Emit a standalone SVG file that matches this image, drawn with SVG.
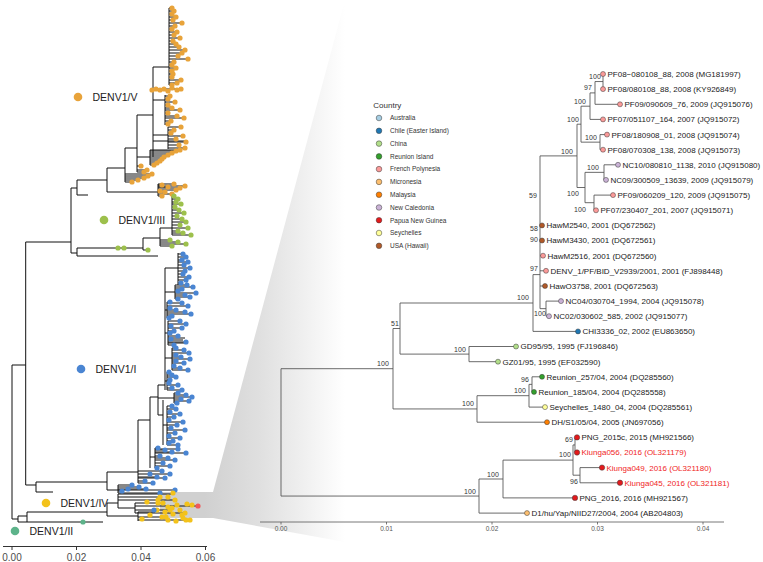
<svg xmlns="http://www.w3.org/2000/svg" width="763" height="562" viewBox="0 0 763 562">
<defs>
<linearGradient id="wedge" gradientUnits="userSpaceOnUse" x1="205" y1="0" x2="345" y2="0">
<stop offset="0" stop-color="#d0d0d0"/>
<stop offset="0.4" stop-color="#e0e0e0"/>
<stop offset="1" stop-color="#ffffff"/>
</linearGradient>
<style>
.lt{fill:none;stroke:#111;stroke-width:1}
.rt{fill:none;stroke:#505050;stroke-width:0.85}
.dt{fill:none;stroke-linecap:round;stroke-width:5.2}
.ax{fill:none;stroke:#333;stroke-width:1}
.axr{fill:none;stroke:#555;stroke-width:0.8}
.tl{font-family:"Liberation Sans",Arial,sans-serif;font-size:10px;fill:#4d4d4d;text-anchor:middle}
.trr{font-family:"Liberation Sans",Arial,sans-serif;font-size:6.5px;fill:#555;text-anchor:middle}
.cl-t{font-family:"Liberation Sans",Arial,sans-serif;font-size:10.5px;fill:#222}
.lf{font-family:"Liberation Sans",Arial,sans-serif;font-size:8px;fill:#1a1a1a}
.lfr{font-family:"Liberation Sans",Arial,sans-serif;font-size:8px;fill:#f01e1e}
.bs{font-family:"Liberation Sans",Arial,sans-serif;font-size:7px;fill:#333;text-anchor:end}
.lg{font-family:"Liberation Sans",Arial,sans-serif;font-size:6.5px;fill:#333}
.lgt{font-family:"Liberation Sans",Arial,sans-serif;font-size:8px;fill:#333}
.d{stroke:#3a3a3a;stroke-width:0.5}
.au{fill:#a6cee3}.cl{fill:#1f78b4}.cn{fill:#b2df8a}.re{fill:#33a02c}.fp{fill:#fb9a99}.mi{fill:#fdbf6f}.my{fill:#ff7f00}.nc{fill:#cab2d6}.pg{fill:#e31a1c}.se{fill:#ffff99}.us{fill:#b15928}
</style>
</defs>
<rect width="763" height="562" fill="#ffffff"/>
<polygon id="zoom-wedge" points="160,492 213,492 345,0 460,0 460,562 455,562 213,518 160,518" fill="url(#wedge)"/>

<g id="left-tree">
<g id="left-connectors">
<path class="lt" d="M12 365V519M12 365H25.7M25.7 242V485M25.7 242H71M71 188V253M71 188H77M77 180V195M77 195H88M77 180H107
M107 168V192M107 192H158M158 184V196M107 168H125M125 148V182M125 148H137M137 115V172M137 115H153M153 67V157M153 67H169M169 8V85M153 89H181M153 141H187
M169 8H172M169 11H174M169 14H172M169 17H176M169 20H173M169 23H182M169 26H175M169 29H172M169 32H177M169 35H174M169 38H180M169 41H173M169 44H176M169 47H179M169 50H185M169 53H182M169 56H178M169 59H188M169 62H174M169 65H172M169 68H176M169 71H172M169 74H173M169 77H172M169 80H181M169 83H177M169 85H172
M153 100H165M165 95V125M165 96H170M165 99H168M165 102H175M165 105H168M165 108H172M165 110H180M165 113H168M165 116H177M165 118H184M165 121H171M165 124H168
M153 135H168M168 127V149M168 127H181M168 130H174M168 133H171M168 136H183M168 139H176M168 142H186M168 145H179M168 148H185
M137 157H150M150 150V165M150 150H180M150 151H176M150 153H172M150 155H168M150 157H164M150 159H162M150 161H160M150 163H157M150 165H154M137 166H141M137 170H147M137 172H144
M125 174H152M125 176H148M125 178H144M125 180H138M125 182H132
M158 184H174M158 185H162M158 186H185M158 187H168M158 188H180M158 190H176M158 191H160M158 192H165M158 194H172M158 196H162
M71 253H77M77 248V256M77 256H158M77 248H143M143 238V250M143 250H150M143 238H160M160 228V246M160 228H172M172 196V235
M172 196H174M172 199H178M172 202H176M172 204H181M172 207H175M172 210H179M172 213H184M172 216H177M172 219H182M172 222H186M172 225H180M172 228H188M172 231H178M172 233H183M172 235H191
M160 240H170M160 242H178M160 244H186M160 246H172
M25.7 485H36M36 482V492M36 492H53M36 482H107M107 472V490M107 490H118M118 485V493M107 472H138M138 420V483M138 420H150M150 397V468M150 397H158M158 385V415M158 415H163M163 400V445M158 385H165M165 268V390M165 268H178M178 253V285
M178 254H183M178 257H186M178 260H182M178 262H188M178 265H184M178 268H190M178 271H185M178 274H183M178 277H189M178 280H186M178 283H181
M165 292H175M175 285V299M175 285H187M175 287H193M175 289H182M175 291H178M175 293H196M175 295H185M175 297H190M175 299H178
M165 310H167M167 302V318M167 302H170M167 303H182M167 306H188M167 308H170M167 310H176M167 312H185M167 314H191M167 316H172M167 318H169
M165 333H168M168 321V345M168 321H180M168 324H186M168 326H171M168 328H182M168 331H174M168 333H170M168 336H178M168 338H185M168 339H171M168 340H183M168 342H186M168 343H186M168 345H174
M165 358H172M172 348V370M172 348H176M172 350H184M172 353H189M172 355H176M172 357H181M172 359H190M172 361H176M172 363H184M172 366H174M172 368H180M172 370H188
M165 381H167M167 372V390M167 372H169M167 375H172M167 377H176M167 380H170M167 383H169M167 385H178M167 388H172M167 390H182
M158 398H174M174 393V403M174 393H178M174 395H186M174 397H192M174 399H181M174 401H189M174 403H177
M163 425H167M167 406V445M167 406H172M167 409H176M167 412H170M167 414H180M167 417H174M167 420H169M167 422H183M167 425H177M167 428H171M167 430H185M167 433H175M167 436H169M167 438H180M167 441H173M167 443H169M167 445H178
M150 457H155M155 448V468M155 448H158M155 449H178M155 450H165M155 452H172M155 453H186M155 456H160M155 458H168M155 460H175M155 463H163M155 466H170M155 468H157
M138 471H162M138 474H170M138 477H157M138 478H165M138 481H145M138 483H153
M118 485H132M118 487H139M118 489H146M118 490H175M118 491H122M118 493H160
M12 519H18M18 516V522M18 516H27M18 522H27M27 512V522M27 512H107M27 522H103M107 503V516M107 503H118M118 494V508M118 494H173M118 497H160M118 500H175M118 508H135M135 503V513M135 503H158M135 506H198M135 510H170M135 513H185M107 516H138M138 512V521M138 512H155M138 517H166M138 520H190"/>
</g>
<path id="dots-V" class="dt" stroke="#e8a33a" d="M172 8h0M174 11h0M172 14h0M176 17h0M173 20h0M182 23h0M175 26h0M172 29h0M177 32h0M174 35h0M180 38h0M173 41h0M176 44h0M179 47h0M185 50h0M182 53h0M178 56h0M188 59h0M174 62h0M172 65h0M176 68h0M172 71h0M173 74h0M172 77h0M181 80h0M177 83h0M172 85h0M152 90h0M156 89h0M160 90h0M164 89h0M168 91h0M172 88h0M177 90h0M181 89h0M170 96h0M168 99h0M175 102h0M168 105h0M172 108h0M180 110h0M168 113h0M177 116h0M184 118h0M171 121h0M168 124h0M181 127h0M174 130h0M171 133h0M183 136h0M176 139h0M186 142h0M179 145h0M185 148h0M180 150h0M176 151h0M172 153h0M168 155h0M164 157h0M162 159h0M160 161h0M157 163h0M154 165h0M141 166h0M147 170h0M144 172h0M152 174h0M148 176h0M144 178h0M138 180h0M132 182h0M174 184h0M162 185h0M185 186h0M168 187h0M180 188h0M176 190h0M160 191h0M165 192h0M172 194h0M162 196h0"/>
<path id="dots-III" class="dt" stroke="#9dc04c" d="M174 196h0M178 199h0M176 202h0M181 204h0M175 207h0M179 210h0M184 213h0M177 216h0M182 219h0M186 222h0M180 225h0M188 228h0M178 231h0M183 233h0M191 235h0M170 240h0M178 242h0M186 244h0M172 246h0M118 248h0M124 248h0M148 250h0"/>
<path id="dots-I" class="dt" stroke="#4a85d2" d="M183 254h0M186 257h0M182 260h0M188 262h0M184 265h0M190 268h0M185 271h0M183 274h0M189 277h0M186 280h0M181 283h0M187 285h0M193 287h0M182 289h0M178 291h0M196 293h0M185 295h0M190 297h0M178 299h0M170 302h0M182 303h0M188 306h0M170 308h0M176 310h0M185 312h0M191 314h0M172 316h0M169 318h0M180 321h0M186 324h0M171 326h0M182 328h0M174 331h0M170 333h0M178 336h0M171 339h0M186 342h0M174 345h0M176 348h0M184 350h0M189 353h0M176 355h0M181 357h0M190 359h0M176 361h0M184 363h0M174 366h0M180 368h0M188 370h0M169 372h0M172 375h0M176 377h0M170 380h0M169 383h0M178 385h0M172 388h0M182 390h0M178 393h0M186 395h0M192 397h0M181 399h0M189 401h0M177 403h0M172 406h0M176 409h0M170 412h0M180 414h0M174 417h0M169 420h0M183 422h0M177 425h0M171 428h0M185 430h0M175 433h0M169 436h0M180 438h0M173 441h0M169 443h0M178 445h0M158 448h0M178 449h0M165 450h0M172 452h0M186 453h0M160 456h0M168 458h0M175 460h0M163 463h0M170 466h0M157 468h0M162 471h0M150 474h0M170 474h0M157 477h0M165 478h0M145 481h0M153 483h0M132 485h0M139 487h0M146 489h0M128 489h0M175 490h0M122 491h0M160 493h0"/>
<path id="dots-IV" class="dt" stroke="#f3c21b" d="M173 493h0M168 497h0M160 497h0M147 502h0M158 500h0M163 503h0M168 507h0M175 500h0M177 505h0M187 504h0M192 505h0M157 510h0M165 512h0M170 510h0M173 514h0M182 515h0M185 513h0M162 517h0M166 517h0M183 518h0M142 519h0M168 520h0M176 521h0M186 520h0M190 520h0M180 510h0M150 515h0M172 508h0M158 503h0"/>
<path id="dots-misc" class="dt" stroke="#4a85d2" d="M154 510h0"/>
<path id="dot-red" class="dt" stroke="#f05a5a" d="M198 506h0"/>
<path id="dots-II" class="dt" stroke="#5db38a" d="M83 522h0"/>
</g>

<g id="clade-V"><circle cx="78" cy="97" r="4.3" fill="#e8a33a"/><text class="cl-t" x="92.5" y="100.8">DENV1/V</text></g>
<g id="clade-III"><circle cx="104" cy="220" r="4.3" fill="#9dc04c"/><text class="cl-t" x="118.5" y="223.8">DENV1/III</text></g>
<g id="clade-I"><circle cx="81" cy="369" r="4.3" fill="#4a85d2"/><text class="cl-t" x="95.5" y="372.8">DENV1/I</text></g>
<g id="clade-IV"><circle cx="46" cy="503" r="4.3" fill="#f3c21b"/><text class="cl-t" x="60.5" y="506.8">DENV1/IV</text></g>
<g id="clade-II"><circle cx="15" cy="531" r="4.3" fill="#5db38a"/><text class="cl-t" x="29.5" y="534.8">DENV1/II</text></g>

<g id="left-axis">
<path class="ax" d="M3 546.5H207M12 546.5v3.5M76.5 546.5v3.5M141 546.5v3.5M205.5 546.5v3.5"/>
<text class="tl" x="12" y="560.5">0.00</text>
<text class="tl" x="76.5" y="560.5">0.02</text>
<text class="tl" x="141" y="560.5">0.04</text>
<text class="tl" x="205.5" y="560.5">0.06</text>
</g>

<g id="right-connectors">
<path class="rt" d="M281 368.7V496.05M281 368.7H393M393 328.5V408.95M393 328.5H400M400 303V354.1M400 303H533M533 274.6V331.4M533 331.4H578
M400 354.1H469M469 346.5V361.7M469 346.5H516M469 361.7H498
M393 408.95H477M477 395.7V422.2M477 422.2H547M477 395.7H529M529 384.35V407.1M529 407.1H545M529 384.35H532M532 376.8V391.9M532 376.8H542M532 391.9H534
M281 496.05H479M479 479V513.1M479 513.1H527M479 479H503M503 460.1V497.9M503 497.9H575M503 460.1H573M573 444.95V475.2M573 444.95H575M575 437.4V452.5M575 437.4H577M575 452.5H577M573 475.2H580M580 467.6V482.8M580 467.6H602M580 482.8H620
M533 274.6H540M540 155.9V308.65M540 155.9H577M577 124.2V187.5M577 124.2H581M581 106.2V142.15M581 106.2H590M590 92.9V119.4M590 119.4H603M590 92.9H595M595 81.55V104.3M595 104.3H620M595 81.55H603M603 74V89.1M581 142.15H600M600 134.6V149.7M600 134.6H607M600 149.7H603
M577 187.5H585M585 172.35V202.7M585 172.35H604M604 164.8V179.9M604 164.8H618M604 179.9H606M585 202.7H594M594 195.1V210.3M594 195.1H613M594 210.3H596
M540 225.4H542M540 240.5H542M540 255.7H543M540 270.8H546M540 286H545M540 308.65H546M546 301.1V316.2M546 301.1H561M546 316.2H549"/>
</g>

<g id="bootstrap">
<text class="bs" x="600.8" y="78.5">100</text>
<text class="bs" x="591.9" y="89.5">97</text>
<text class="bs" x="585.8" y="103.5">100</text>
<text class="bs" x="578.8" y="121.5">100</text>
<text class="bs" x="596.8" y="139.5">100</text>
<text class="bs" x="572.8" y="153.5">100</text>
<text class="bs" x="598.8" y="169.5">100</text>
<text class="bs" x="578.8" y="195.5">100</text>
<text class="bs" x="585.8" y="211.5">100</text>
<text class="bs" x="536.9" y="197.5">59</text>
<text class="bs" x="537.9" y="230.5">58</text>
<text class="bs" x="537.9" y="241.5">90</text>
<text class="bs" x="537.9" y="270.5">97</text>
<text class="bs" x="528.8" y="299.5">100</text>
<text class="bs" x="545.8" y="315.5">100</text>
<text class="bs" x="398.9" y="325.5">51</text>
<text class="bs" x="388.8" y="365.5">100</text>
<text class="bs" x="465.8" y="351.5">100</text>
<text class="bs" x="528.9" y="381.5">96</text>
<text class="bs" x="525.8" y="392.5">100</text>
<text class="bs" x="473.8" y="405.5">100</text>
<text class="bs" x="572.9" y="441.5">69</text>
<text class="bs" x="570.8" y="456.5">100</text>
<text class="bs" x="577.9" y="483.5">96</text>
<text class="bs" x="498.8" y="476.5">100</text>
<text class="bs" x="475.8" y="493.5">100</text>
</g>

<g id="leaves">
<g id="leaf-MG181997"><circle class="d fp" cx="603" cy="74" r="2.5"/><text class="lf" x="607.5" y="76.9">PF08−080108_88, 2008 (MG181997)</text></g>
<g id="leaf-KY926849"><circle class="d fp" cx="603" cy="89.1" r="2.5"/><text class="lf" x="607.5" y="92">PF08/080108_88, 2008 (KY926849)</text></g>
<g id="leaf-JQ915076"><circle class="d fp" cx="620" cy="104.3" r="2.5"/><text class="lf" x="624.5" y="107.2">PF09/090609_76, 2009 (JQ915076)</text></g>
<g id="leaf-JQ915072"><circle class="d fp" cx="603" cy="119.4" r="2.5"/><text class="lf" x="607.5" y="122.3">PF07/051107_164, 2007 (JQ915072)</text></g>
<g id="leaf-JQ915074"><circle class="d fp" cx="607" cy="134.6" r="2.5"/><text class="lf" x="611.5" y="137.5">PF08/180908_01, 2008 (JQ915074)</text></g>
<g id="leaf-JQ915073"><circle class="d fp" cx="603" cy="149.7" r="2.5"/><text class="lf" x="607.5" y="152.6">PF08/070308_138, 2008 (JQ915073)</text></g>
<g id="leaf-JQ915080"><circle class="d nc" cx="618" cy="164.8" r="2.5"/><text class="lf" x="622.5" y="167.7">NC10/080810_1138, 2010 (JQ915080)</text></g>
<g id="leaf-JQ915079"><circle class="d nc" cx="606" cy="179.9" r="2.5"/><text class="lf" x="610.5" y="182.8">NC09/300509_13639, 2009 (JQ915079)</text></g>
<g id="leaf-JQ915075"><circle class="d fp" cx="613" cy="195.1" r="2.5"/><text class="lf" x="617.5" y="198">PF09/060209_120, 2009 (JQ915075)</text></g>
<g id="leaf-JQ915071"><circle class="d fp" cx="596" cy="210.3" r="2.5"/><text class="lf" x="600.5" y="213.2">PF07/230407_201, 2007 (JQ915071)</text></g>
<g id="leaf-DQ672562"><circle class="d us" cx="542" cy="225.4" r="2.5"/><text class="lf" x="546.5" y="228.3">HawM2540, 2001 (DQ672562)</text></g>
<g id="leaf-DQ672561"><circle class="d us" cx="542" cy="240.5" r="2.5"/><text class="lf" x="546.5" y="243.4">HawM3430, 2001 (DQ672561)</text></g>
<g id="leaf-DQ672560"><circle class="d fp" cx="543" cy="255.7" r="2.5"/><text class="lf" x="547.5" y="258.6">HawM2516, 2001 (DQ672560)</text></g>
<g id="leaf-FJ898448"><circle class="d fp" cx="546" cy="270.8" r="2.5"/><text class="lf" x="550.5" y="273.7">DENV_1/PF/BID_V2939/2001, 2001 (FJ898448)</text></g>
<g id="leaf-DQ672563"><circle class="d us" cx="545" cy="286" r="2.5"/><text class="lf" x="549.5" y="288.9">HawO3758, 2001 (DQ672563)</text></g>
<g id="leaf-JQ915078"><circle class="d nc" cx="561" cy="301.1" r="2.5"/><text class="lf" x="565.5" y="304">NC04/030704_1994, 2004 (JQ915078)</text></g>
<g id="leaf-JQ915077"><circle class="d nc" cx="549" cy="316.2" r="2.5"/><text class="lf" x="553.5" y="319.1">NC02/030602_585, 2002 (JQ915077)</text></g>
<g id="leaf-EU863650"><circle class="d cl" cx="578" cy="331.4" r="2.5"/><text class="lf" x="582.5" y="334.3">CHI3336_02, 2002 (EU863650)</text></g>
<g id="leaf-FJ196846"><circle class="d cn" cx="516" cy="346.5" r="2.5"/><text class="lf" x="520.5" y="349.4">GD95/95, 1995 (FJ196846)</text></g>
<g id="leaf-EF032590"><circle class="d cn" cx="498" cy="361.7" r="2.5"/><text class="lf" x="502.5" y="364.6">GZ01/95, 1995 (EF032590)</text></g>
<g id="leaf-DQ285560"><circle class="d re" cx="542" cy="376.8" r="2.5"/><text class="lf" x="546.5" y="379.7">Reunion_257/04, 2004 (DQ285560)</text></g>
<g id="leaf-DQ285558"><circle class="d re" cx="534" cy="391.9" r="2.5"/><text class="lf" x="538.5" y="394.8">Reunion_185/04, 2004 (DQ285558)</text></g>
<g id="leaf-DQ285561"><circle class="d se" cx="545" cy="407.1" r="2.5"/><text class="lf" x="549.5" y="410">Seychelles_1480_04, 2004 (DQ285561)</text></g>
<g id="leaf-JN697056"><circle class="d my" cx="547" cy="422.2" r="2.5"/><text class="lf" x="551.5" y="425.1">DH/S1/05/04, 2005 (JN697056)</text></g>
<g id="leaf-MH921566"><circle class="d pg" cx="577" cy="437.4" r="2.7"/><text class="lf" x="581.5" y="440.3">PNG_2015c, 2015 (MH921566)</text></g>
<g id="leaf-OL321179"><circle class="d pg" cx="577" cy="452.5" r="2.7"/><text class="lfr" x="581.5" y="455.4">Kiunga056, 2016 (OL321179)</text></g>
<g id="leaf-OL321180"><circle class="d pg" cx="602" cy="467.6" r="2.7"/><text class="lfr" x="606.5" y="470.5">Kiunga049, 2016 (OL321180)</text></g>
<g id="leaf-OL321181"><circle class="d pg" cx="620" cy="482.8" r="2.7"/><text class="lfr" x="624.5" y="485.7">Kiunga045, 2016 (OL321181)</text></g>
<g id="leaf-MH921567"><circle class="d pg" cx="575" cy="497.9" r="2.7"/><text class="lf" x="579.5" y="500.8">PNG_2016, 2016 (MH921567)</text></g>
<g id="leaf-AB204803"><circle class="d mi" cx="527" cy="513.1" r="2.5"/><text class="lf" x="531.5" y="516">D1/hu/Yap/NIID27/2004, 2004 (AB204803)</text></g>
</g>

<g id="right-axis">
<path class="axr" d="M260 522H724M281 522v2.5M386.5 522v2.5M492 522v2.5M597.5 522v2.5M703 522v2.5"/>
<text class="trr" x="281" y="531">0.00</text>
<text class="trr" x="386.5" y="531">0.01</text>
<text class="trr" x="492" y="531">0.02</text>
<text class="trr" x="597.5" y="531">0.03</text>
<text class="trr" x="703" y="531">0.04</text>
</g>

<g id="legend">
<text class="lgt" x="373.3" y="107.8">Country</text>
<g id="lg-au"><circle class="d au" cx="379" cy="118" r="2.8"/><text class="lg" x="390" y="120.3">Australia</text></g>
<g id="lg-cl"><circle class="d cl" cx="379" cy="130.8" r="2.8"/><text class="lg" x="390" y="133.1">Chile (Easter Island)</text></g>
<g id="lg-cn"><circle class="d cn" cx="379" cy="143.6" r="2.8"/><text class="lg" x="390" y="145.9">China</text></g>
<g id="lg-re"><circle class="d re" cx="379" cy="156.4" r="2.8"/><text class="lg" x="390" y="158.7">Reunion Island</text></g>
<g id="lg-fp"><circle class="d fp" cx="379" cy="169.1" r="2.8"/><text class="lg" x="390" y="171.4">French Polynesia</text></g>
<g id="lg-mi"><circle class="d mi" cx="379" cy="181.9" r="2.8"/><text class="lg" x="390" y="184.2">Micronesia</text></g>
<g id="lg-my"><circle class="d my" cx="379" cy="194.7" r="2.8"/><text class="lg" x="390" y="197">Malaysia</text></g>
<g id="lg-nc"><circle class="d nc" cx="379" cy="207.5" r="2.8"/><text class="lg" x="390" y="209.8">New Caledonia</text></g>
<g id="lg-pg"><circle class="d pg" cx="379" cy="220.2" r="2.8"/><text class="lg" x="390" y="222.5">Papua New Guinea</text></g>
<g id="lg-se"><circle class="d se" cx="379" cy="233" r="2.8"/><text class="lg" x="390" y="235.3">Seychelles</text></g>
<g id="lg-us"><circle class="d us" cx="379" cy="245.8" r="2.8"/><text class="lg" x="390" y="248.1">USA (Hawaii)</text></g>
</g>
</svg>
